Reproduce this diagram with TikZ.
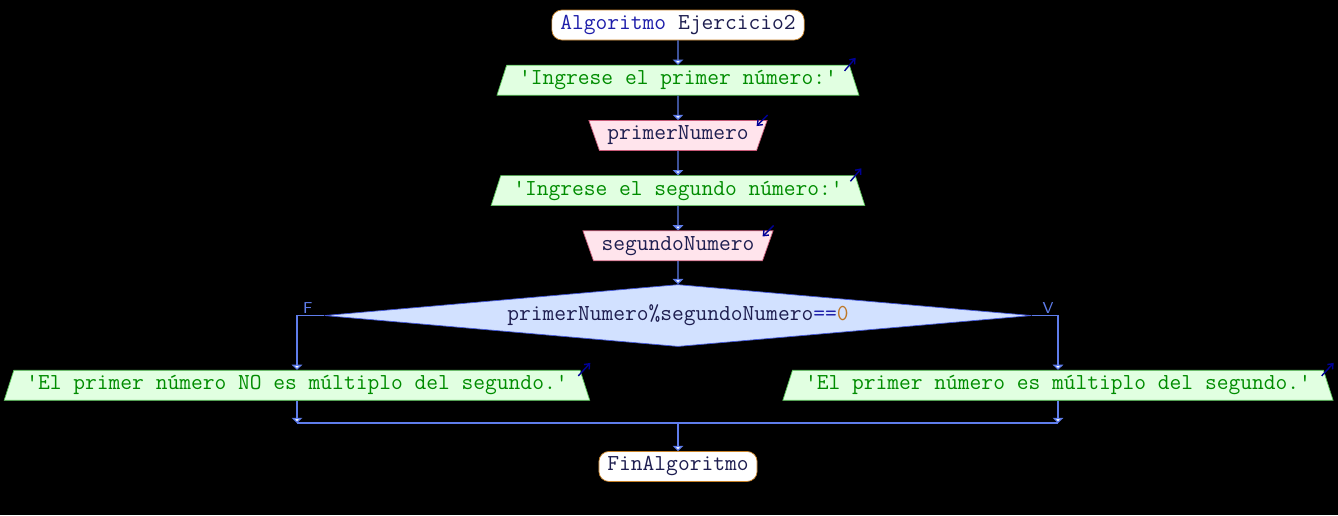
\documentclass[tikz,border=0pt]{standalone}
\usepackage{fontspec}
\usepackage{tikz}
\usetikzlibrary{shapes.geometric, arrows.meta, positioning, calc}
\usepackage{xcolor}

\definecolor{flowblue}{RGB}{95,125,235}
\definecolor{termbrown}{RGB}{200,130,40}
\definecolor{kwblue}{RGB}{30,30,170}
\definecolor{varnavy}{RGB}{30,30,80}
\definecolor{strgreen}{RGB}{0,140,0}
\definecolor{outgreen}{RGB}{90,200,90}
\definecolor{outfill}{RGB}{225,255,225}
\definecolor{inred}{RGB}{200,90,120}
\definecolor{infill}{RGB}{255,228,236}
\definecolor{condblue}{RGB}{70,90,220}
\definecolor{condfill}{RGB}{210,225,255}
\definecolor{numorange}{RGB}{190,120,40}
\definecolor{icondark}{RGB}{0,0,150}

\newcommand\monofont{\ttfamily\fontsize{13}{15}\selectfont}

\begin{document}
\begin{tikzpicture}[
        terminal/.style={draw=termbrown, fill=white, rounded corners=0.2cm, minimum height=0.6cm, inner xsep=0.17cm, inner ysep=2pt, text=varnavy, font=\monofont},
        outbox/.style={trapezium, trapezium left angle=70, trapezium right angle=70, trapezium stretches=true, draw=outgreen, fill=outfill, text=strgreen, minimum height=0.6cm, inner xsep=0.25cm, inner ysep=2pt, font=\monofont},
        inbox/.style={trapezium, trapezium left angle=112, trapezium right angle=112, trapezium stretches=true, draw=inred, fill=infill, text=varnavy, minimum height=0.6cm, inner xsep=0.16cm, inner ysep=2pt, font=\monofont},
        decision/.style={diamond, aspect=12, draw=condblue, fill=condfill, text=varnavy, minimum width=14.14cm, minimum height=1.24cm, inner sep=0pt, font=\monofont},
        flow/.style={draw=flowblue, line width=0.8pt, -{Triangle[width=6pt, length=3pt, fill=white]}},
        link/.style={draw=flowblue, line width=0.8pt},
        flag/.style={text=flowblue, font=\sffamily\fontsize{9}{10}\selectfont, inner sep=1pt},
        iconarrow/.style={draw=icondark, line width=0.8pt, -{Straight Barb[length=2.5pt, width=4pt]}}
    ]

        % black page
        \fill[black] (0,0) rectangle (26.76,-10.3);
        \useasboundingbox (0,0) rectangle (26.76,-10.3);

        \node[terminal] (start) at (13.56,-0.5) {{\color{kwblue}Algoritmo} Ejercicio2};

        \node[outbox, below=0.49cm of start] (askfirst) {'Ingrese el primer número:'};
        \node[inbox, below=0.49cm of askfirst] (readfirst) {primerNumero};
        \node[outbox, below=0.49cm of readfirst] (asksecond) {'Ingrese el segundo número:'};
        \node[inbox, below=0.49cm of asksecond] (readsecond) {segundoNumero};

        \node[decision, below=0.46cm of readsecond] (cond) {primerNumero\%segundoNumero{\color{kwblue}==}{\color{numorange}0}};

        \node[outbox, below=0.46cm of cond, xshift=-7.62cm] (nomult) {'El primer número NO es múltiplo del segundo.'};
        \node[outbox, below=0.46cm of cond, xshift=7.6cm] (simult) {'El primer número es múltiplo del segundo.'};

        \path (nomult.south) ++(0,-0.45) coordinate (nojoin);
        \coordinate (join) at (nojoin -| cond.south);
        \node[terminal, below=0.56cm of join] (fin) {FinAlgoritmo};

        % main chain
        \draw[flow] (start) -- (askfirst);
        \draw[flow] (askfirst) -- (readfirst);
        \draw[flow] (readfirst) -- (asksecond);
        \draw[flow] (asksecond) -- (readsecond);
        \draw[flow] (readsecond) -- (cond);

        % branches
        \draw[flow] (cond.west) -| node[flag, pos=0.3, above] {F} (nomult.north);
        \draw[flow] (cond.east) -| node[flag, pos=0.31, above] {V} (simult.north);

        % merge
        \draw[flow] (nomult.south) -- (nojoin);
        \draw[flow] (simult.south) -- (nojoin -| simult.south);
        \draw[link] (nojoin) -- (nojoin -| simult.south);
        \draw[flow] (join) -- (fin);

        % io icons
        \draw[iconarrow] ([shift={(-0.1,-0.12)}]askfirst.top right corner) -- ++(0.22,0.26);
        \draw[iconarrow] ([shift={(-0.1,-0.12)}]asksecond.top right corner) -- ++(0.22,0.26);
        \draw[iconarrow] ([shift={(-0.04,-0.12)}]nomult.top right corner) -- ++(0.24,0.26);
        \draw[iconarrow] ([shift={(-0.04,-0.12)}]simult.top right corner) -- ++(0.24,0.26);
        \draw[iconarrow] ([shift={(0,0.1)}]readfirst.top right corner) -- ++(-0.22,-0.22);
        \draw[iconarrow] ([shift={(0,0.1)}]readsecond.top right corner) -- ++(-0.22,-0.22);

    \end{tikzpicture}
\end{document}
